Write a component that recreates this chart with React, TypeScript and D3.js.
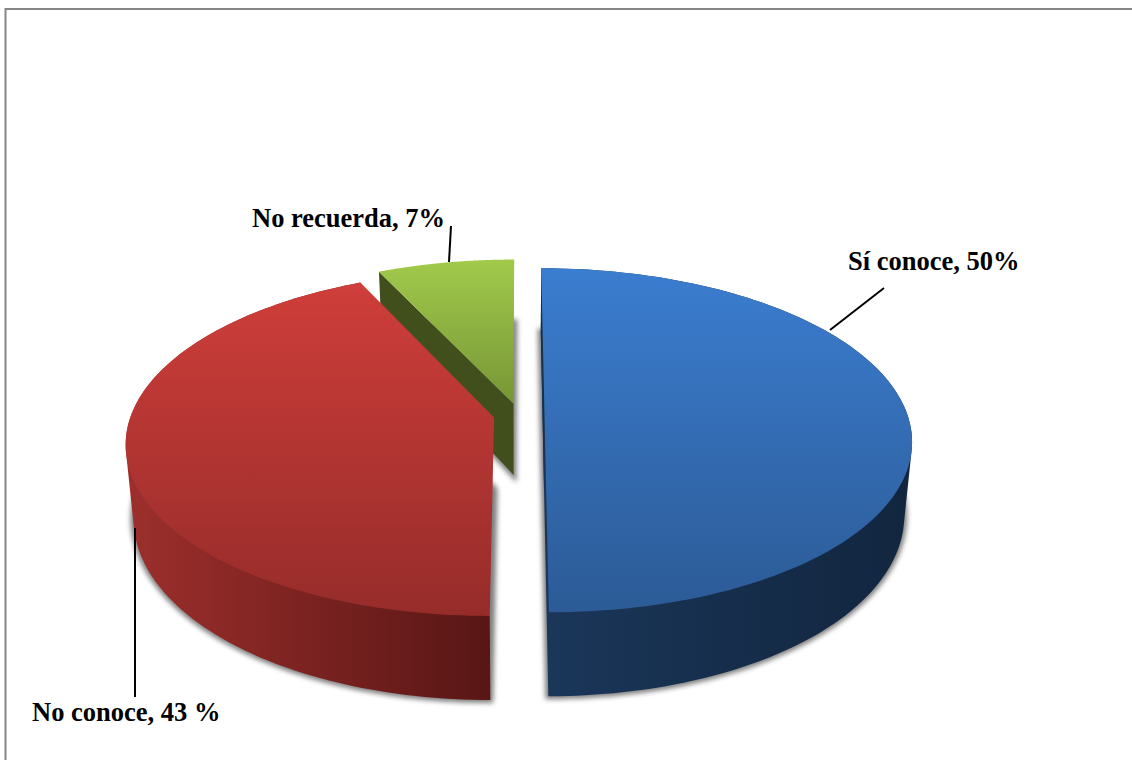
import React from "react";
import * as d3 from "d3";

const categories = ["Sí conoce", "No conoce", "No recuerda"];
const values = [50, 43, 7];
const labelTexts = ["Sí conoce, 50%", "No conoce, 43 %", "No recuerda, 7%"];

const WIDTH = 1132;
const HEIGHT = 760;

// Perspective set-up of the tilted disc: vanishing axis, radius, thickness.
const VANISH_X = 519;
const TOP_Y0 = -730;
const TOP_YS = 1145;
const BOTTOM_Y0 = -727;
const BOTTOM_YS = 1214;
const BOTTOM_XS = 0.98;
const RADIUS = 363;
const FORESHORTEN = 0.147;
const EXPLODE = 25.5;

type Pt = [number, number];

// World coordinates: x to the right, z towards the viewer.
const depthScale = (z: number) => 1 / (1 - (FORESHORTEN * z) / RADIUS);
const projectTop = (x: number, z: number): Pt => {
  const p = depthScale(z);
  return [VANISH_X + x * p, TOP_Y0 + TOP_YS * p];
};
const projectBottom = (x: number, z: number): Pt => {
  const p = depthScale(z);
  return [VANISH_X + x * p * BOTTOM_XS, BOTTOM_Y0 + BOTTOM_YS * p];
};

const pieLayout = d3.pie<number>().sort(null).startAngle(0).endAngle(2 * Math.PI);
const arcs = pieLayout(values);
const lineGen = d3.line<Pt>();

const sliceGeometry = arcs.map((a) => {
  const mid = (a.startAngle + a.endAngle) / 2;
  const cx = EXPLODE * Math.sin(mid);
  const cz = -EXPLODE * Math.cos(mid);
  const angles = d3.range(0, 121).map((i) => a.startAngle + ((a.endAngle - a.startAngle) * i) / 120);
  const rim = (proj: (x: number, z: number) => Pt) =>
    angles.map((t) => proj(cx + RADIUS * Math.sin(t), cz - RADIUS * Math.cos(t)));
  return {
    topRim: rim(projectTop),
    bottomRim: rim(projectBottom),
    topApex: projectTop(cx, cz),
    bottomApex: projectBottom(cx, cz),
  };
});

const faces = sliceGeometry.map((g) => ({
  top: lineGen([g.topApex, ...g.topRim])! + "Z",
  bottom: lineGen([g.bottomApex, ...g.bottomRim])! + "Z",
  // The outer wall is ruled between both rims, so its silhouette is their common hull.
  wall: lineGen(d3.polygonHull([...g.topRim, ...g.bottomRim]) as Pt[])! + "Z",
  cutStart: lineGen([g.topRim[0], g.topApex, g.bottomApex, g.bottomRim[0]])! + "Z",
}));

const [blue, red, green] = faces;

const labelFont = {
  fontFamily: '"Liberation Serif", "Times New Roman", serif',
  fontWeight: 700,
  fontSize: 26.5,
  fill: "#000",
};

const labelPlacement = [
  { x: 848, y: 270, leader: "M884,288L830,330" },
  { x: 32, y: 721, leader: "M135,528L135,697" },
  { x: 252, y: 227, leader: "M451,226L449,262" },
];

export default function App() {
  return (
    <svg
      width={WIDTH}
      height={HEIGHT}
      viewBox={`0 0 ${WIDTH} ${HEIGHT}`}
      style={{ position: "absolute", left: 0, top: 0, background: "#fff" }}
    >
      <defs>
        <linearGradient id="blueTop" gradientUnits="userSpaceOnUse" x1="0" x2="0" y1="268" y2="612">
          <stop offset="0" stopColor="#3b7dd0" />
          <stop offset="1" stopColor="#2c5b96" />
        </linearGradient>
        <linearGradient id="redTop" gradientUnits="userSpaceOnUse" x1="0" x2="0" y1="280" y2="615">
          <stop offset="0" stopColor="#cf3e3a" />
          <stop offset="1" stopColor="#962c2a" />
        </linearGradient>
        <linearGradient id="greenTop" gradientUnits="userSpaceOnUse" x1="0" x2="0" y1="260" y2="403">
          <stop offset="0" stopColor="#a1ca4b" />
          <stop offset="1" stopColor="#779636" />
        </linearGradient>
        <linearGradient id="blueWall" gradientUnits="userSpaceOnUse" x1="549" x2="905" y1="0" y2="0">
          <stop offset="0" stopColor="#1a3659" />
          <stop offset="1" stopColor="#12263f" />
        </linearGradient>
        <linearGradient id="redWall" gradientUnits="userSpaceOnUse" x1="130" x2="491" y1="0" y2="0">
          <stop offset="0" stopColor="#9c2f2c" />
          <stop offset="1" stopColor="#581615" />
        </linearGradient>
        <filter id="softShadow" x="-10%" y="-10%" width="120%" height="120%">
          <feGaussianBlur stdDeviation="2.8" />
        </filter>
      </defs>

      <path d={`M5.5,${HEIGHT}V9H${WIDTH}`} fill="none" stroke="#868686" strokeWidth={2} />

      {/* Soft contact shadow beneath each slice */}
      <g filter="url(#softShadow)" fill="#000" stroke="#000" strokeWidth={6} opacity={0.5}>
        {faces.map((f, i) => (
          <path key={categories[i]} d={f.bottom} />
        ))}
      </g>

      {/* Green slice sits behind the red one */}
      <path d={green.cutStart} fill="#404f1c" />
      <path d={green.top} fill="url(#greenTop)" />

      <path d={blue.wall} fill="url(#blueWall)" />
      <path d={blue.cutStart} fill="#16304f" />
      <path d={blue.top} fill="url(#blueTop)" />

      <path d={red.wall} fill="url(#redWall)" />
      <path d={red.top} fill="url(#redTop)" />

      {labelPlacement.map((l, i) => (
        <g key={categories[i]}>
          <path d={l.leader} stroke="#000" strokeWidth={2} fill="none" />
          <text x={l.x} y={l.y} {...labelFont}>
            {labelTexts[i]}
          </text>
        </g>
      ))}
    </svg>
  );
}
